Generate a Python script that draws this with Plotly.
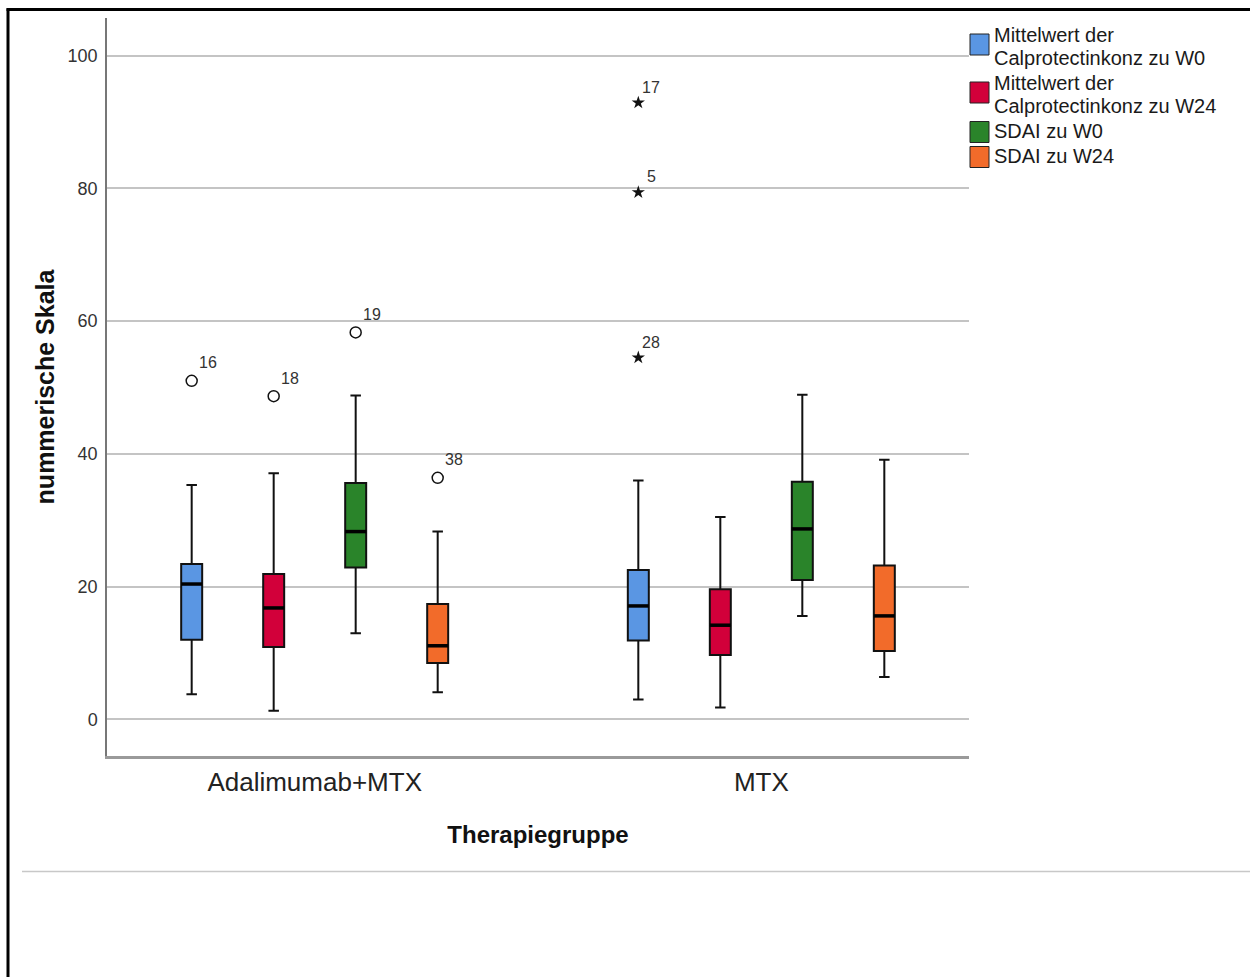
import plotly.graph_objects as go

# ---------------------------------------------------------------- data
groups = ["Adalimumab+MTX", "MTX"]
series_names = [
    "Mittelwert der<br>Calprotectinkonz zu W0",
    "Mittelwert der<br>Calprotectinkonz zu W24",
    "SDAI zu W0",
    "SDAI zu W24",
]
series_colors = ["#5A96E3", "#D2003A", "#2A842A", "#F26B2A"]

# box statistics per series, one value per therapy group [Adalimumab+MTX, MTX]
lower_whisker = [[3.8, 3.0], [1.3, 1.8], [13.0, 15.6], [4.1, 6.4]]
q1 = [[12.0, 11.9], [10.9, 9.7], [22.9, 21.0], [8.5, 10.3]]
median = [[20.4, 17.1], [16.8, 14.2], [28.3, 28.7], [11.1, 15.6]]
q3 = [[23.4, 22.5], [21.9, 19.6], [35.6, 35.8], [17.4, 23.2]]
upper_whisker = [[35.3, 36.0], [37.1, 30.5], [48.8, 48.9], [28.3, 39.1]]

# outliers (circle) and extreme values (star), labelled with case number
outlier_series = [0, 1, 2, 3, 0, 0, 0]
outlier_group = [0, 0, 0, 0, 1, 1, 1]
outlier_value = [51.0, 48.7, 58.3, 36.4, 92.9, 79.4, 54.5]
outlier_case = ["16", "18", "19", "38", "17", "5", "28"]
outlier_extreme = [False, False, False, False, True, True, True]

y_ticks = [0, 20, 40, 60, 80, 100]

# ---------------------------------------------------------------- layout geometry
W, H = 1250, 977
ML, MR, MT, MB = 107, 281, 18, 221
PW, PH = W - ML - MR, H - MT - MB
X_RANGE = [-0.465, 1.465]
Y_RANGE = [-5.5, 105.65]
SLOT = 0.1836      # distance between neighbouring boxes inside a group
BOX_W = 0.047      # box width in axis units
FONT = "Liberation Sans, Arial, sans-serif"
n_series = len(series_names)


def box_pos(s, g):
    return g + (s - (n_series - 1) / 2) * SLOT


def px_x(px):
    return (px - ML) / PW


def px_y(py):
    return (H - MB - py) / PH


fig = go.Figure()

# boxes with whiskers
for s in range(n_series):
    fig.add_trace(go.Box(
        x=[box_pos(s, g) for g in range(len(groups))],
        q1=q1[s], median=median[s], q3=q3[s],
        lowerfence=lower_whisker[s], upperfence=upper_whisker[s],
        orientation="v",
        width=BOX_W, whiskerwidth=0.5,
        fillcolor=series_colors[s],
        line=dict(color="#111111", width=2),
        boxpoints=False, showlegend=False,
        name=series_names[s].replace("<br>", " "),
    ))

# thick median bars
for s in range(n_series):
    mx, my = [], []
    for g in range(len(groups)):
        p = box_pos(s, g)
        mx += [p - BOX_W / 2, p + BOX_W / 2, None]
        my += [median[s][g], median[s][g], None]
    fig.add_trace(go.Scatter(x=mx, y=my, mode="lines",
                             line=dict(color="black", width=3.5),
                             showlegend=False, hoverinfo="skip"))

# outliers and extremes
for extreme in (False, True):
    idx = [i for i in range(len(outlier_value)) if outlier_extreme[i] == extreme]
    fig.add_trace(go.Scatter(
        x=[box_pos(outlier_series[i], outlier_group[i]) for i in idx],
        y=[outlier_value[i] for i in idx],
        mode="markers",
        marker=dict(symbol="star" if extreme else "circle-open",
                    size=10 if extreme else 11,
                    color="#111111",
                    line=dict(color="#111111", width=0 if extreme else 1.5)),
        showlegend=False,
    ))

annotations = []
for i in range(len(outlier_value)):
    annotations.append(dict(
        x=box_pos(outlier_series[i], outlier_group[i]), y=outlier_value[i],
        xref="x", yref="y", text=outlier_case[i], showarrow=False,
        xanchor="center", yanchor="middle",
        xshift=13 if outlier_extreme[i] else 16.5,
        yshift=15.5 if outlier_extreme[i] else 18,
        font=dict(family=FONT, size=16, color="#333333"),
    ))

# legend: coloured squares with (multi-line) series names
shapes = []
line_y = 35
for s in range(n_series):
    lines = series_names[s].split("<br>")
    centers = []
    for text in lines:
        centers.append(line_y)
        annotations.append(dict(
            x=px_x(992), y=px_y(line_y), xref="paper", yref="paper",
            text=text, showarrow=False, xanchor="left", yanchor="middle",
            font=dict(family=FONT, size=20, color="#1a1a1a"),
        ))
        line_y += 23
    line_y += 2
    sc = sum(centers) / len(centers) - 3 * (len(lines) - 1) + 1
    shapes.append(dict(
        type="rect", xref="paper", yref="paper",
        x0=px_x(970), x1=px_x(989), y0=px_y(sc + 10.5), y1=px_y(sc - 10.5),
        fillcolor=series_colors[s], line=dict(color="#222222", width=1),
    ))

# page frame and divider
shapes += [
    dict(type="line", xref="paper", yref="paper",
         x0=px_x(8), x1=px_x(8), y0=px_y(8.5), y1=px_y(H + 5),
         line=dict(color="black", width=3)),
    dict(type="line", xref="paper", yref="paper",
         x0=px_x(6.5), x1=px_x(W + 5), y0=px_y(9.5), y1=px_y(9.5),
         line=dict(color="black", width=3)),
    dict(type="line", xref="paper", yref="paper",
         x0=px_x(22), x1=px_x(W + 5), y0=px_y(871.5), y1=px_y(871.5),
         line=dict(color="#c8c8c8", width=1.5)),
]

fig.update_layout(
    width=W, height=H,
    margin=dict(l=ML, r=MR, t=MT, b=MB, pad=0),
    paper_bgcolor="white", plot_bgcolor="white",
    boxmode="overlay",
    showlegend=False,
    font=dict(family=FONT, color="#222222"),
    shapes=shapes,
    annotations=annotations,
    xaxis=dict(
        range=X_RANGE, tickmode="array",
        tickvals=list(range(len(groups))), ticktext=groups,
        showgrid=False, zeroline=False,
        showline=True, linecolor="#9a9a9a", linewidth=2.5,
        ticks="", ticklabelstandoff=1,
        tickfont=dict(family=FONT, size=26, color="#222222"),
        title=dict(text="<b>Therapiegruppe</b>", standoff=31,
                   font=dict(family=FONT, size=24, color="#111111")),
    ),
    yaxis=dict(
        range=Y_RANGE, tickmode="array", tickvals=y_ticks,
        showgrid=True, gridcolor="#c4c4c4", gridwidth=1.5,
        zeroline=False,
        showline=True, linecolor="#777777", linewidth=1.5,
        ticks="", ticklabelstandoff=4,
        tickfont=dict(family=FONT, size=18, color="#333333"),
        title=dict(text="<b>nummerische Skala</b>", standoff=6,
                   font=dict(family=FONT, size=25, color="#111111")),
    ),
)

fig.write_html("out.html")
